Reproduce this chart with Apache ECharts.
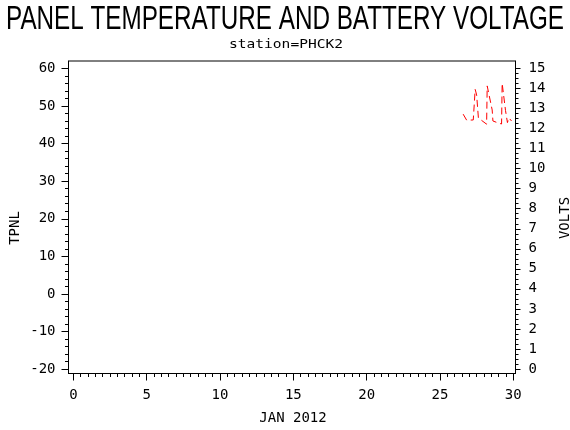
<!DOCTYPE html>
<html><head><meta charset="utf-8">
<script src="https://cdn.jsdelivr.net/npm/echarts@6/dist/echarts.min.js"></script>
<style>html,body{margin:0;padding:0;background:#fff}#c{width:570px;height:430px}</style>
</head><body><div id="c"></div>
<script>
// Battery voltage (VOLTS, right axis) vs day of Jan 2012
const days  = [26.58, 26.82, 27.27, 27.40, 27.47, 27.50, 27.62, 27.72, 28.18, 28.22, 28.30, 28.56, 28.61, 28.97, 29.20, 29.24, 29.33, 29.47, 29.60, 29.70, 29.88];
const volts = [12.72, 12.42, 12.43, 13.96, 13.95, 13.68, 12.53, 12.47, 12.22, 14.13, 14.18, 12.93, 12.38, 12.28, 12.23, 14.26, 14.23, 12.90, 12.30, 12.53, 12.38];
const xTicks = [0, 5, 10, 15, 20, 25, 30];
const leftTicks = [-20, -10, 0, 10, 20, 30, 40, 50, 60];
const rightTicks = [0, 1, 2, 3, 4, 5, 6, 7, 8, 9, 10, 11, 12, 13, 14, 15];
const titleText = 'PANEL TEMPERATURE AND BATTERY VOLTAGE';
const subtitleText = 'station=PHCK2';
const xName = 'JAN 2012';
const leftName = 'TPNL';
const rightName = 'VOLTS';

function range(a, b, step) { const r = []; for (let v = a; v <= b + 1e-9; v += step) r.push(+v.toFixed(4)); return r; }
const xMinor = range(0, 30, 0.5);
const leftMinor = range(-20, 60, 2);
const rightMinor = range(0, 15, 0.25);

const FONT = '"DejaVu Sans Mono"';
const lineCol = '#000';
const X_MIN = -0.33, X_MAX = 30.15;
const L_MIN = -21.2, L_MAX = 62.0;
const R_MIN = -0.225, R_MAX = 15.374;

const chart = echarts.init(document.getElementById('c'), null, {renderer: 'canvas'});
const baseLabel = {fontFamily: FONT, fontSize: 14, color: '#000'};
chart.setOption({
  backgroundColor: '#fff',
  animation: false,
  grid: {left: 68.5, right: 54.5, top: 61, bottom: 56.5, show: true, borderColor: lineCol, borderWidth: 1, backgroundColor: 'transparent'},
  xAxis: [
    {type: 'value', position: 'bottom', min: X_MIN, max: X_MAX,
     axisLine: {show: true, onZero: false, lineStyle: {color: lineCol, width: 1}},
     axisTick: {show: true, customValues: xTicks, length: 7, lineStyle: {color: lineCol}},
     axisLabel: Object.assign({customValues: xTicks, margin: 15}, baseLabel),
     splitLine: {show: false}},
    {type: 'value', position: 'bottom', min: X_MIN, max: X_MAX,
     axisLine: {show: false, onZero: false},
     axisTick: {show: true, customValues: xMinor, length: 3.5, lineStyle: {color: lineCol}},
     axisLabel: {show: false}, splitLine: {show: false}}
  ],
  yAxis: [
    {type: 'value', position: 'left', min: L_MIN, max: L_MAX,
     axisLine: {show: true, onZero: false, lineStyle: {color: lineCol}},
     axisTick: {show: true, customValues: leftTicks, length: 7, lineStyle: {color: lineCol}},
     axisLabel: Object.assign({customValues: leftTicks, margin: 13}, baseLabel),
     splitLine: {show: false}},
    {type: 'value', position: 'right', min: R_MIN, max: R_MAX,
     axisLine: {show: true, onZero: false, lineStyle: {color: lineCol}},
     axisTick: {show: true, customValues: rightTicks, length: 5, lineStyle: {color: lineCol}},
     axisLabel: Object.assign({customValues: rightTicks, margin: 13}, baseLabel),
     splitLine: {show: false}},
    {type: 'value', position: 'left', min: L_MIN, max: L_MAX,
     axisLine: {show: false, onZero: false},
     axisTick: {show: true, customValues: leftMinor, length: 3.5, lineStyle: {color: lineCol}},
     axisLabel: {show: false}, splitLine: {show: false}},
    {type: 'value', position: 'right', min: R_MIN, max: R_MAX,
     axisLine: {show: false, onZero: false},
     axisTick: {show: true, customValues: rightMinor, length: 3, lineStyle: {color: lineCol}},
     axisLabel: {show: false}, splitLine: {show: false}}
  ],
  series: [{
    name: 'VOLTS', type: 'line', xAxisIndex: 0, yAxisIndex: 1,
    data: days.map((d, i) => [d, volts[i]]),
    showSymbol: false, symbol: 'none',
    lineStyle: {color: '#ff0000', width: 1, type: [7, 4]}
  }],
  graphic: [
    {type: 'text', x: 285, y: 20, scaleX: 0.735, style: {text: titleText, fontFamily: '"Liberation Sans"', fontSize: 33, fill: '#000', align: 'center', verticalAlign: 'middle'}},
    {type: 'text', x: 286, y: 45, scaleX: 1.12, style: {text: subtitleText, fontFamily: FONT, fontSize: 13, fill: '#000', align: 'center', verticalAlign: 'middle'}},
    {type: 'text', x: 293, y: 418, style: {text: xName, fontFamily: FONT, fontSize: 14, fill: '#000', align: 'center', verticalAlign: 'middle'}},
    {type: 'text', x: 15, y: 228, rotation: Math.PI / 2, style: {text: leftName, fontFamily: FONT, fontSize: 14, fill: '#000', align: 'center', verticalAlign: 'middle'}},
    {type: 'text', x: 565, y: 218, rotation: Math.PI / 2, style: {text: rightName, fontFamily: FONT, fontSize: 14, fill: '#000', align: 'center', verticalAlign: 'middle'}}
  ]
});
</script></body></html>
